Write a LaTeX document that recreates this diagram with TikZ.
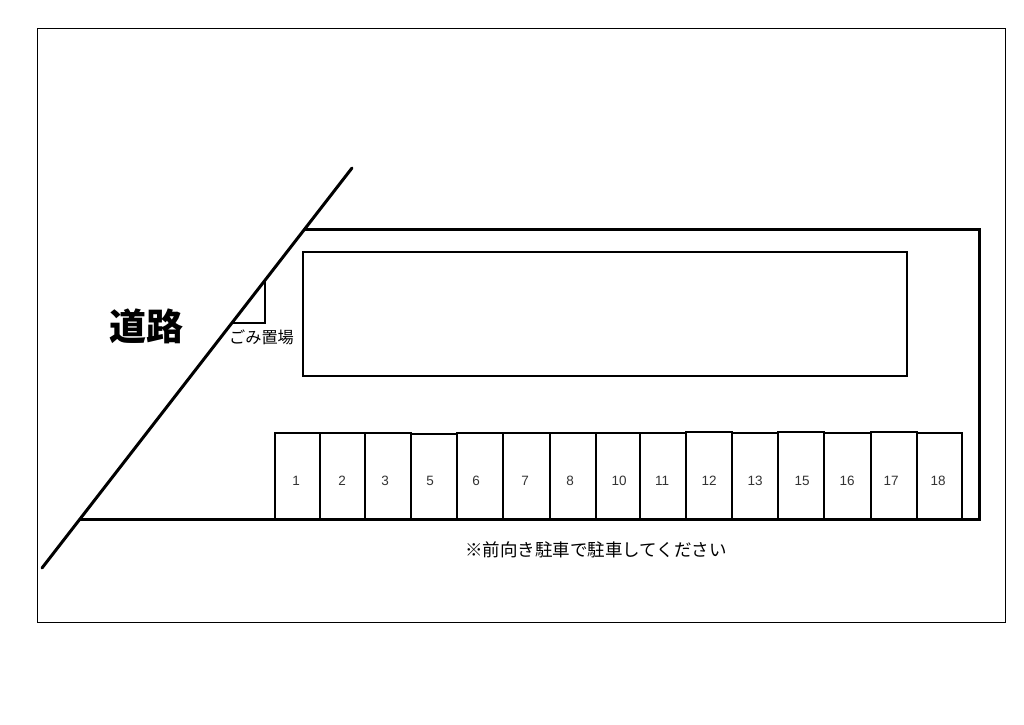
\documentclass[tikz,border=0pt]{standalone}
\usepackage{fontspec}
\setmainfont{Liberation Sans}
\newfontfamily\cjk{Noto Sans CJK JP}
\tikzset{
  frameline/.style={draw=black,line width=0.9pt},
  heavy/.style={draw=black,line width=3pt,line cap=round},
  medium/.style={draw=black,line width=1.9pt},
  slotbox/.style={draw=black,line width=2.8pt,inner sep=0pt,anchor=center},
  slotnum/.style={inner sep=0pt,font=\fontsize{13.5}{13.5}\selectfont,text=black!80},
  jp/.style={inner sep=0pt,font=\cjk\fontsize{#1}{#1}\selectfont},
  jpbold/.style={inner sep=0pt,font=\cjk\bfseries\fontsize{#1}{#1}\selectfont}
}
\newcommand{\parkslot}[6]{% name, x0, x1, top, label, label x
  \node[slotbox,minimum width=#3pt-#2pt,minimum height=519pt-#4pt] (s#1) at ({(#2+#3)/2},{(#4+519)/2}) {};
  \node[slotnum] (t#1) at (#6,480.5) {#5};
}
\begin{document}
\begin{tikzpicture}[x=1pt,y=-1pt]
\useasboundingbox (0,0) rectangle (1024,724);
\node[frameline,inner sep=0pt,minimum width=968pt,minimum height=594pt] (frame) at (521.5,325.5) {};
\coordinate (roadN) at (352,168);
\coordinate (roadS) at (42,568);
\draw[heavy] (roadN) -- (roadS);
\coordinate (lotNW) at (305,229.5);
\coordinate (lotNE) at (979.5,229.5);
\coordinate (lotSE) at (979.5,519.5);
\coordinate (lotSW) at (80,519.5);
\node[medium,inner sep=0pt,minimum width=604pt,minimum height=124pt] (building) at (605,314) {};
\parkslot{1}{275}{320}{433}{1}{296}
\parkslot{2}{320}{365}{433}{2}{342}
\parkslot{3}{365}{411}{433}{3}{385}
\parkslot{5}{411}{457}{434}{5}{430}
\parkslot{6}{457}{503}{433}{6}{476}
\parkslot{7}{503}{550}{433}{7}{525}
\parkslot{8}{550}{596}{433}{8}{570}
\parkslot{10}{596}{640}{433}{10}{619}
\parkslot{11}{640}{686}{433}{11}{662}
\parkslot{12}{686}{732}{432}{12}{709}
\parkslot{13}{732}{778}{433}{13}{755}
\parkslot{15}{778}{824}{432}{15}{802}
\parkslot{16}{824}{871}{433}{16}{847}
\parkslot{17}{871}{917}{432}{17}{891}
\parkslot{18}{917}{962}{433}{18}{938}
\draw[heavy] (lotSW) -- (lotSE) -- (lotNE) -- (lotNW);
\coordinate (binN) at (265,281);
\coordinate (binC) at (265,323);
\coordinate (binW) at (233,323);
\draw[medium] (binN) -- (binC) -- (binW);
\node[jpbold=37] (road) at (146,326) {道路};
\node[jp=16.2] (bin) at (261.5,337) {ごみ置場};
\node[jp=17.5] (note) at (596,550) {※前向き駐車で駐車してください};
\end{tikzpicture}
\end{document}
